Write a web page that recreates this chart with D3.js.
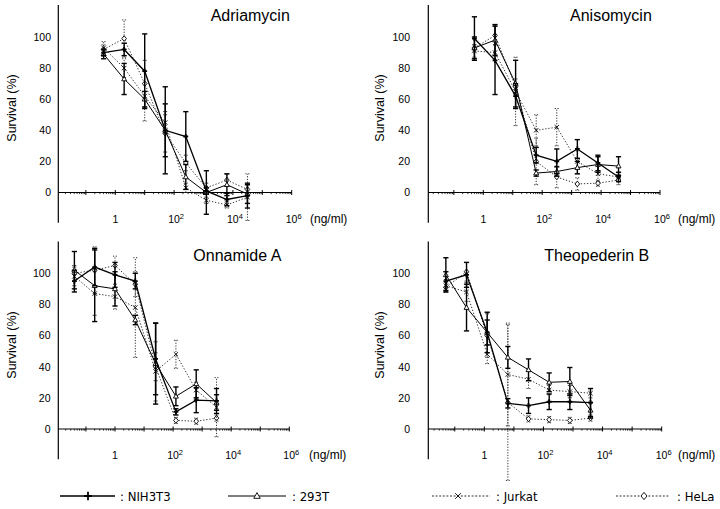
<!DOCTYPE html>
<html><head><meta charset="utf-8">
<script src="https://cdn.jsdelivr.net/npm/d3@7"></script>
<style>
body{margin:0;background:#fff}
svg{display:block;font-family:"Liberation Sans",Arial,Helvetica,sans-serif}
</style>
</head><body>
<svg id="chart" width="720" height="509"></svg>
<script>
// ---------------- DATA ----------------
const drugs = ["Adriamycin", "Anisomycin", "Onnamide A", "Theopederin B"];
const seriesNames = ["NIH3T3", "293T", "Jurkat", "HeLa"];
const xTickValues = [1, 1e2, 1e4, 1e6];
const xTickExponents = ["", "2", "4", "6"];
const yTickValues = [0, 20, 40, 60, 80, 100];
const xUnit = "(ng/ml)";
const yTitle = "Survival (%)";

// concentrations (ng/ml)
const concAdriamycin  = [0.4, 2, 10, 50, 250, 1250, 6250, 31250];
const concAnisomycin  = [0.5, 2.5, 12.5, 62.5, 312.5, 1562.5, 7812.5, 39062.5];
const concOnnamide    = [0.04, 0.2, 1, 5, 25, 125, 625, 3125];
const concTheopederin = [0.05, 0.25, 1.25, 6.25, 31.25, 156.25, 781.25, 3906.25];

// Adriamycin
const adrNIH3T3 = [90, 92, 78, 40, 36, 1, -4.5, -2];
const adrNIH3T3Err = [2, 4, 24, 28, 16, 2, 4, 8];
const adr293T = [89, 73, 60, 40, 10, 0, 5, -1];
const adr293TErr = [3, 10, 5, 17, 8, 14, 7, 6];
const adrJurkat = [93, 80, 62, 45, 3, -5, -8, -3];
const adrJurkatErr = [4, 6, 16, 7, 3, 2, 2, 15];
const adrHeLa = [92, 99, 70, 38, 19, 3, 8, 2];
const adrHeLaErr = [3, 12, 15, 12, 5, 3, 4, 3];

// Anisomycin
const aniNIH3T3 = [99, 85, 62, 24, 20, 28, 19, 10];
const aniNIH3T3Err = [14, 22, 8, 5, 8, 6, 5, 3];
const ani293T = [93, 98, 70, 12.5, 13.5, 16, 18, 17];
const ani293TErr = [7, 10, 15, 2, 3, 4, 5, 6];
const aniJurkat = [91, 90, 65, 40, 42, 20, 12, 10];
const aniJurkatErr = [4, 5, 22, 10, 12, 8, 5, 3];
const aniHeLa = [93, 101, 68, 20, 10, 5.5, 6, 8];
const aniHeLaErr = [2, 6, 5, 15, 7, 4, 2, 3];

// Onnamide A
const onnNIH3T3 = [95, 104, 99, 95, 45, 11, 18.5, 18];
const onnNIH3T3Err = [7, 12, 8, 5, 23, 2, 8, 8];
const onn293T = [102, 92, 90, 70, 42, 21, 29, 17];
const onn293TErr = [12, 23, 11, 3, 26, 6, 9, 5];
const onnJurkat = [98, 87, 85, 78, 37, 48, 25, 14];
const onnJurkatErr = [6, 14, 8, 32, 19, 9, 5, 19];
const onnHeLa = [100, 102, 105, 93, 40, 5.5, 5, 7];
const onnHeLaErr = [5, 15, 6, 8, 9, 2, 2, 2];

// Theopederin B
const theNIH3T3 = [95, 99, 62, 16.5, 15, 17.5, 17.5, 17];
const theNIH3T3Err = [6, 8, 13, 3, 5, 5, 5, 9];
const the293T = [99, 78, 62, 46, 38, 30, 30.5, 12];
const the293TErr = [11, 15, 8, 7, 7, 6, 9, 5];
const theJurkat = [92, 88, 48, 35, 32, 25, 24, 23];
const theJurkatErr = [4, 6, 6, 33, 6, 3, 4, 3];
const theHeLa = [91, 101, 60, 17, 6.5, 6, 5.5, 7];
const theHeLaErr = [3, 6, 14, 50, 2, 2, 2, 2];

// ---------------- BUILD ----------------
const panelData = [
  {conc: concAdriamycin, vals: [adrNIH3T3, adr293T, adrJurkat, adrHeLa], errs: [adrNIH3T3Err, adr293TErr, adrJurkatErr, adrHeLaErr]},
  {conc: concAnisomycin, vals: [aniNIH3T3, ani293T, aniJurkat, aniHeLa], errs: [aniNIH3T3Err, ani293TErr, aniJurkatErr, aniHeLaErr]},
  {conc: concOnnamide, vals: [onnNIH3T3, onn293T, onnJurkat, onnHeLa], errs: [onnNIH3T3Err, onn293TErr, onnJurkatErr, onnHeLaErr]},
  {conc: concTheopederin, vals: [theNIH3T3, the293T, theJurkat, theHeLa], errs: [theNIH3T3Err, the293TErr, theJurkatErr, theHeLaErr]}
];

// layout (positions only)
const layout = [
  {axisX: 58.3, xr: [56.5, 291.7], y0: 192.5, y100: 37, tickEnd: 51, yLabX: 11.7, yLabY: 108, titleX: 210.7, titleY: 21, unitX: 310},
  {axisX: 428.3, xr: [424.4, 660], y0: 192.5, y100: 37, tickEnd: 410, yLabX: 380, yLabY: 108, titleX: 570, titleY: 21, unitX: 678},
  {axisX: 58.3, xr: [56.9, 289.3], y0: 429, y100: 273.3, tickEnd: 50.5, yLabX: 11.7, yLabY: 345, titleX: 193.3, titleY: 261, unitX: 309},
  {axisX: 428.3, xr: [425.2, 661.7], y0: 429, y100: 273.3, tickEnd: 410, yLabX: 380, yLabY: 345, titleX: 544.3, titleY: 261, unitX: 678}
];

const styles = [
  {solid: true, width: 1.3, color: "#000"},
  {solid: true, width: 1.0, color: "#000"},
  {solid: false, width: 1.0, color: "#333", dash: "1.3,1.8"},
  {solid: false, width: 1.0, color: "#333", dash: "1.3,1.8"}
];

const markerPaths = [
  "M-3,0H3M0,-3.2V3.2",
  "M0,-2.6L2.5,1.8L-2.5,1.8Z",
  "M-2.2,-2.2L2.2,2.2M-2.2,2.2L2.2,-2.2",
  "M0,-2.8L2.3,0L0,2.8L-2.3,0Z"
];

const svg = d3.select("#chart");

function drawMarker(g, i, x, y, scale) {
  const s = scale || 1;
  const p = g.append("path").attr("d", markerPaths[i])
    .attr("transform", `translate(${x},${y}) scale(${s})`)
    .attr("stroke", "#000");
  if (i === 0) p.attr("stroke-width", 1.8 / s).attr("fill", "none");
  else if (i === 1 || i === 3) p.attr("fill", "#fff").attr("stroke-width", 0.9 / s);
  else p.attr("fill", "none").attr("stroke-width", 0.9 / s);
}

drugs.forEach((drug, pi) => {
  const L = layout[pi];
  const D = panelData[pi];
  const x = d3.scaleLog().domain([1e-2, 1e6]).range(L.xr);
  const y = d3.scaleLinear().domain([0, 100]).range([L.y0, L.y100]);
  const g = svg.append("g");

  // y axis line
  g.append("line").attr("x1", L.axisX).attr("x2", L.axisX)
    .attr("y1", y(120.5)).attr("y2", y(-19.5))
    .attr("stroke", "#000").attr("stroke-width", 1.2);
  // y tick labels
  g.selectAll(".yt").data(yTickValues).enter().append("text")
    .attr("x", L.tickEnd).attr("y", d => y(d)).attr("dy", "0.36em")
    .attr("text-anchor", "end").attr("font-size", "10.5px").text(d => d);
  // y title
  g.append("text").attr("transform", `translate(${L.yLabX},${L.yLabY}) rotate(-90)`)
    .attr("text-anchor", "middle").attr("dy", "0.35em")
    .attr("font-size", "12.5px").text(yTitle);

  // x axis at y=0
  const y0 = y(0);
  g.append("line").attr("x1", L.axisX).attr("x2", L.xr[1])
    .attr("y1", y0).attr("y2", y0).attr("stroke", "#000").attr("stroke-width", 1.2);
  const majors = d3.range(-2, 7).map(e => Math.pow(10, e));
  g.selectAll(".maj").data(majors.filter(d => x(d) > L.axisX + 1)).enter().append("line")
    .attr("x1", d => x(d)).attr("x2", d => x(d))
    .attr("y1", y0 - 2.5).attr("y2", y0 + 2.5)
    .attr("stroke", "#000").attr("stroke-width", 1);
  const minors = [];
  d3.range(-2, 6).forEach(e => { for (let k = 2; k <= 9; k++) minors.push(k * Math.pow(10, e)); });
  g.selectAll(".min").data(minors).enter().append("line")
    .attr("x1", d => x(d)).attr("x2", d => x(d))
    .attr("y1", y0).attr("y2", y0 + 1.6)
    .attr("stroke", "#000").attr("stroke-width", 0.8);
  // x tick labels
  const lab = g.selectAll(".xt").data(xTickValues).enter().append("text")
    .attr("x", (d, i) => x(d) + (i ? 2 : 0)).attr("y", y0 + 30)
    .attr("text-anchor", "middle").attr("font-size", "10.5px");
  lab.append("tspan").text(d => d === 1 ? "1" : "10");
  lab.append("tspan").attr("dy", "-4").attr("font-size", "7.5px").text((d, i) => xTickExponents[i]);
  g.append("text").attr("x", L.unitX).attr("y", y0 + 30).attr("font-size", "12px").text(xUnit);

  // title
  g.append("text").attr("x", L.titleX).attr("y", L.titleY).attr("font-size", "16px").text(drug);

  // series, dotted first
  [3, 2, 1, 0].forEach(si => {
    const st = styles[si];
    const vals = D.vals[si], errs = D.errs[si];
    const pts = D.conc.map((c, k) => ({c, v: vals[k], e: errs[k]}));
    const sg = g.append("g");
    const line = d3.line().x(d => x(d.c)).y(d => y(d.v));
    const path = sg.append("path").attr("d", line(pts)).attr("fill", "none")
      .attr("stroke", st.color).attr("stroke-width", st.width);
    if (!st.solid) path.attr("stroke-dasharray", st.dash);
    // error bars
    pts.forEach(p => {
      const px = x(p.c);
      const eg = sg.append("g").attr("stroke", st.color)
        .attr("stroke-width", st.solid ? 1.4 : 1);
      if (!st.solid) eg.attr("stroke-dasharray", "1.2,1.5");
      eg.append("line").attr("x1", px).attr("x2", px).attr("y1", y(p.v - p.e)).attr("y2", y(p.v + p.e));
      const cw = st.solid ? 2.6 : 2;
      [p.v - p.e, p.v + p.e].forEach(v => {
        eg.append("line").attr("x1", px - cw).attr("x2", px + cw).attr("y1", y(v)).attr("y2", y(v))
          .attr("stroke-dasharray", null);
      });
    });
    pts.forEach(p => drawMarker(sg, si, x(p.c), y(p.v), si === 0 ? 0.8 : 1));
  });
});

// legend
const legendY = 496;
const legendItems = [
  {x1: 60, x2: 115, m: 88, tx: 120},
  {x1: 228, x2: 286, m: 257, tx: 292},
  {x1: 432, x2: 490, m: 458, tx: 496},
  {x1: 616, x2: 670, m: 644, tx: 677}
];
const lg = svg.append("g");
seriesNames.forEach((name, i) => {
  const it = legendItems[i];
  const st = styles[i];
  const ln = lg.append("line").attr("x1", it.x1).attr("x2", it.x2)
    .attr("y1", legendY).attr("y2", legendY).attr("stroke", st.color)
    .attr("stroke-width", i === 0 ? 1.5 : 1);
  if (!st.solid) ln.attr("stroke-dasharray", "2,1.6");
  drawMarker(lg, i, it.m, legendY, i === 0 ? 1.3 : 1.3);
  lg.append("text").attr("x", it.tx).attr("y", legendY).attr("dy", "0.36em")
    .attr("font-size", "13px")
    .attr("font-family", "'Liberation Sans Narrow','DejaVu Sans Condensed','Liberation Sans',sans-serif")
    .text(": " + name);
});
</script>
</body></html>
